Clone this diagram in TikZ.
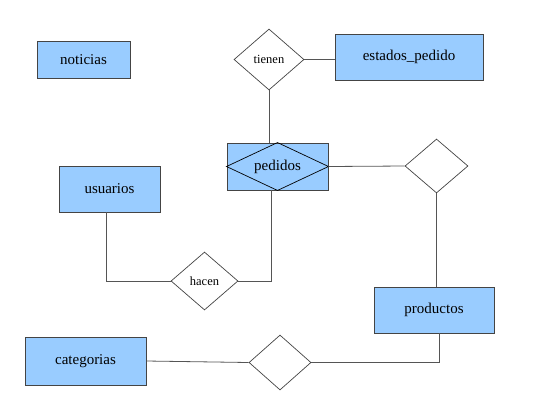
\documentclass[tikz,border=0pt]{standalone}
\usepackage{fontspec}
\setmainfont{Liberation Serif}
\usetikzlibrary{shapes.geometric}

\definecolor{azul}{HTML}{99CCFF}
\definecolor{borde}{HTML}{444444}
\definecolor{linea}{HTML}{555555}

\tikzset{
    entidad/.style={rectangle, draw=borde, fill=azul, line width=0.9pt,
        inner sep=0pt, font=\fontsize{15}{18}\selectfont},
    relacion/.style={diamond, draw=borde, fill=white, line width=0.7pt,
        inner sep=0pt, font=\fontsize{12.5}{15}\selectfont},
    enlace/.style={draw=linea, line width=0.8pt}
}

\begin{document}
\begin{tikzpicture}[x=1pt,y=-1pt]
    \useasboundingbox (0,0) rectangle (540,408);

    % Entidades
    \node (noticias) [entidad, minimum width=93pt, minimum height=37pt] at (83.5,59.5) {noticias};
    \node (estados) [entidad, minimum width=148pt, minimum height=46pt] at (409,57) {estados\_pedido};
    \node (pedidos) [entidad, minimum width=101pt, minimum height=47pt] at (277.5,166.5) {};
    \node (usuarios) [entidad, minimum width=101pt, minimum height=46pt] at (109.5,189) {usuarios};
    \node (productos) [entidad, minimum width=120pt, minimum height=46pt] at (434,310) {productos};
    \node (categorias) [entidad, minimum width=121pt, minimum height=48pt] at (85.5,361) {categorias};

    % Entidad asociativa
    \draw[black, line width=0.7pt] (pedidos.west) -- (pedidos.north) -- (pedidos.east)
        -- (pedidos.south) -- cycle;
    \node (pedidos_txt) [font=\fontsize{15}{18}\selectfont] at (pedidos) {pedidos};

    % Relaciones
    \node (tienen) [relacion, minimum width=70pt, minimum height=61pt] at (269,59.5) {tienen};
    \node (hacen) [relacion, minimum width=67pt, minimum height=58pt] at (204.5,281) {hacen};
    \node (contiene) [relacion, minimum width=63pt, minimum height=54pt] at (436.5,166) {};
    \node (pertenece) [relacion, minimum width=62pt, minimum height=55pt] at (280,362.5) {};

    % Enlaces
    \draw[enlace] (tienen.east) -- (tienen.east -| estados.west);
    \draw[enlace] (tienen.south) -- (tienen.south |- pedidos.north);
    \draw[enlace] (pedidos.east) -- (contiene.west);
    \draw[enlace] (contiene.south) -- (contiene.south |- productos.north);
    \draw[enlace] ([xshift=-3.5pt]usuarios.south) |- (hacen.west);
    \draw[enlace] (hacen.east) -| ([xshift=-6.5pt]pedidos.south);
    \draw[enlace] (categorias.east) -- (pertenece.west);
    \draw[enlace] (pertenece.east) -| ([xshift=5pt]productos.south);

\end{tikzpicture}
\end{document}
